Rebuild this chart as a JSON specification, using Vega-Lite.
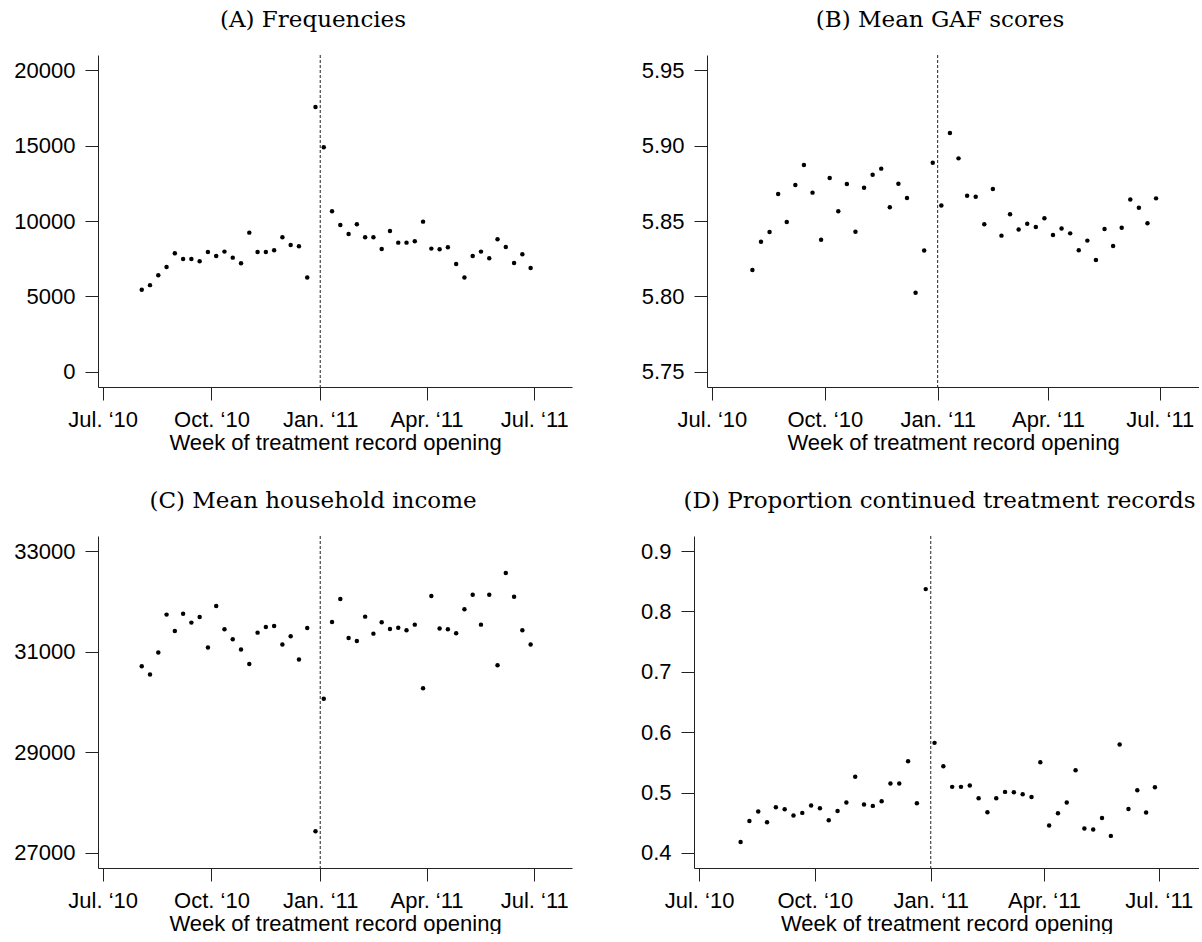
{
  "$schema": "https://vega.github.io/schema/vega-lite/v6.json",
  "padding": {"left": 13, "top": 8, "right": 0, "bottom": 0},
  "background": "white",
  "spacing": 36,
  "datasets": {
    "pts": [
      {"date": "2010-08-03", "freq": 5450, "gaf": 5.8175, "income": 30711, "prop": 0.418},
      {"date": "2010-08-10", "freq": 5750, "gaf": 5.8363, "income": 30546, "prop": 0.453},
      {"date": "2010-08-17", "freq": 6400, "gaf": 5.8427, "income": 30982, "prop": 0.4685},
      {"date": "2010-08-24", "freq": 6950, "gaf": 5.8679, "income": 31737, "prop": 0.4508},
      {"date": "2010-08-31", "freq": 7860, "gaf": 5.8493, "income": 31412, "prop": 0.4757},
      {"date": "2010-09-07", "freq": 7485, "gaf": 5.8738, "income": 31756, "prop": 0.4724},
      {"date": "2010-09-14", "freq": 7485, "gaf": 5.8871, "income": 31578, "prop": 0.4619},
      {"date": "2010-09-21", "freq": 7330, "gaf": 5.8688, "income": 31690, "prop": 0.4663},
      {"date": "2010-09-28", "freq": 7950, "gaf": 5.8376, "income": 31082, "prop": 0.4785},
      {"date": "2010-10-05", "freq": 7684, "gaf": 5.8785, "income": 31909, "prop": 0.474},
      {"date": "2010-10-12", "freq": 7971, "gaf": 5.8564, "income": 31445, "prop": 0.4541},
      {"date": "2010-10-19", "freq": 7573, "gaf": 5.8745, "income": 31247, "prop": 0.4696},
      {"date": "2010-10-26", "freq": 7198, "gaf": 5.8429, "income": 31042, "prop": 0.4834},
      {"date": "2010-11-02", "freq": 9229, "gaf": 5.8721, "income": 30757, "prop": 0.526},
      {"date": "2010-11-09", "freq": 7950, "gaf": 5.8807, "income": 31379, "prop": 0.4801},
      {"date": "2010-11-16", "freq": 7950, "gaf": 5.8847, "income": 31492, "prop": 0.4779},
      {"date": "2010-11-23", "freq": 8059, "gaf": 5.8591, "income": 31512, "prop": 0.4856},
      {"date": "2010-11-30", "freq": 8920, "gaf": 5.8747, "income": 31141, "prop": 0.5149},
      {"date": "2010-12-07", "freq": 8412, "gaf": 5.8652, "income": 31307, "prop": 0.5149},
      {"date": "2010-12-14", "freq": 8324, "gaf": 5.8025, "income": 30843, "prop": 0.5519},
      {"date": "2010-12-21", "freq": 6249, "gaf": 5.8304, "income": 31472, "prop": 0.4823},
      {"date": "2010-12-28", "freq": 17554, "gaf": 5.8886, "income": 27430, "prop": 0.837},
      {"date": "2011-01-04", "freq": 14882, "gaf": 5.8602, "income": 30063, "prop": 0.5823},
      {"date": "2011-01-11", "freq": 10642, "gaf": 5.9083, "income": 31591, "prop": 0.5436},
      {"date": "2011-01-18", "freq": 9737, "gaf": 5.8915, "income": 32047, "prop": 0.5094},
      {"date": "2011-01-25", "freq": 9141, "gaf": 5.8668, "income": 31273, "prop": 0.5094},
      {"date": "2011-02-01", "freq": 9781, "gaf": 5.8661, "income": 31214, "prop": 0.5116},
      {"date": "2011-02-08", "freq": 8920, "gaf": 5.8478, "income": 31697, "prop": 0.4906},
      {"date": "2011-02-15", "freq": 8920, "gaf": 5.8712, "income": 31359, "prop": 0.4674},
      {"date": "2011-02-22", "freq": 8148, "gaf": 5.8403, "income": 31584, "prop": 0.4906},
      {"date": "2011-03-01", "freq": 9340, "gaf": 5.8544, "income": 31452, "prop": 0.5011},
      {"date": "2011-03-08", "freq": 8567, "gaf": 5.8443, "income": 31478, "prop": 0.5006},
      {"date": "2011-03-15", "freq": 8567, "gaf": 5.8482, "income": 31426, "prop": 0.4972},
      {"date": "2011-03-22", "freq": 8655, "gaf": 5.846, "income": 31538, "prop": 0.4928},
      {"date": "2011-03-29", "freq": 9958, "gaf": 5.8518, "income": 30275, "prop": 0.5503},
      {"date": "2011-04-05", "freq": 8170, "gaf": 5.8407, "income": 32107, "prop": 0.4453},
      {"date": "2011-04-12", "freq": 8125, "gaf": 5.8451, "income": 31459, "prop": 0.4657},
      {"date": "2011-04-19", "freq": 8258, "gaf": 5.8418, "income": 31445, "prop": 0.4834},
      {"date": "2011-04-26", "freq": 7154, "gaf": 5.8306, "income": 31366, "prop": 0.537},
      {"date": "2011-05-03", "freq": 6249, "gaf": 5.837, "income": 31842, "prop": 0.4403},
      {"date": "2011-05-10", "freq": 7684, "gaf": 5.8242, "income": 32133, "prop": 0.4387},
      {"date": "2011-05-17", "freq": 7971, "gaf": 5.8447, "income": 31538, "prop": 0.458},
      {"date": "2011-05-24", "freq": 7529, "gaf": 5.8334, "income": 32133, "prop": 0.4282},
      {"date": "2011-05-31", "freq": 8788, "gaf": 5.8456, "income": 30731, "prop": 0.5796},
      {"date": "2011-06-07", "freq": 8280, "gaf": 5.8643, "income": 32563, "prop": 0.4729},
      {"date": "2011-06-14", "freq": 7220, "gaf": 5.8588, "income": 32094, "prop": 0.5039},
      {"date": "2011-06-21", "freq": 7794, "gaf": 5.8485, "income": 31426, "prop": 0.4669},
      {"date": "2011-06-28", "freq": 6889, "gaf": 5.865, "income": 31141, "prop": 0.5088}
    ],
    "cut": [{"d": "2011-01-01"}]
  },
  "vconcat": [
    {
      "bounds": "flush",
      "spacing": 135,
      "hconcat": [
        {
          "width": 474, "height": 332,
          "title": {"text": "(A) Frequencies", "dx": -22},
          "layer": [
            {
              "data": {"name": "pts"},
              "mark": {"type": "circle", "size": 20, "color": "black", "opacity": 1},
              "encoding": {
                "x": {"field": "date", "type": "temporal", "title": "Week of treatment record opening",
                  "scale": {"type": "utc", "domain": [{"year": 2010, "month": 6, "date": 27, "utc": true}, {"year": 2011, "month": 8, "date": 2, "utc": true}]},
                  "axis": {"values": [{"year": 2010, "month": 7, "date": 1, "utc": true}, {"year": 2010, "month": 10, "date": 1, "utc": true}, {"year": 2011, "month": 1, "date": 1, "utc": true}, {"year": 2011, "month": 4, "date": 1, "utc": true}, {"year": 2011, "month": 7, "date": 1, "utc": true}],
                    "labelExpr": "utcFormat(datum.value, '%b') + '. \u2018' + utcFormat(datum.value, '%y')"}},
                "y": {"field": "freq", "type": "quantitative", "title": null,
                  "scale": {"domain": [-1000, 21000], "nice": false, "zero": false},
                  "axis": {"values": [0, 5000, 10000, 15000, 20000], "format": "d"}}
              }
            },
            {
              "data": {"name": "cut"},
              "mark": {"type": "rule", "strokeDash": [3, 2], "color": "#222222", "strokeWidth": 1},
              "encoding": {"x": {"field": "d", "type": "temporal", "title": "Week of treatment record opening"}}
            }
          ]
        },
        {
          "width": 492, "height": 332,
          "title": {"text": "(B) Mean GAF scores", "dx": -13},
          "layer": [
            {
              "data": {"name": "pts"},
              "mark": {"type": "circle", "size": 20, "color": "black", "opacity": 1},
              "encoding": {
                "x": {"field": "date", "type": "temporal", "title": "Week of treatment record opening",
                  "scale": {"type": "utc", "domain": [{"year": 2010, "month": 6, "date": 27, "utc": true}, {"year": 2011, "month": 8, "date": 2, "utc": true}]},
                  "axis": {"values": [{"year": 2010, "month": 7, "date": 1, "utc": true}, {"year": 2010, "month": 10, "date": 1, "utc": true}, {"year": 2011, "month": 1, "date": 1, "utc": true}, {"year": 2011, "month": 4, "date": 1, "utc": true}, {"year": 2011, "month": 7, "date": 1, "utc": true}],
                    "labelExpr": "utcFormat(datum.value, '%b') + '. \u2018' + utcFormat(datum.value, '%y')"}},
                "y": {"field": "gaf", "type": "quantitative", "title": null,
                  "scale": {"domain": [5.74, 5.96], "nice": false, "zero": false},
                  "axis": {"values": [5.75, 5.8, 5.85, 5.9, 5.95], "format": ".2f"}}
              }
            },
            {
              "data": {"name": "cut"},
              "mark": {"type": "rule", "strokeDash": [3, 2], "color": "#222222", "strokeWidth": 1},
              "encoding": {"x": {"field": "d", "type": "temporal", "title": "Week of treatment record opening"}}
            }
          ]
        }
      ]
    },
    {
      "bounds": "flush",
      "spacing": 122,
      "hconcat": [
        {
          "width": 474, "height": 332,
          "title": {"text": "(C) Mean household income", "dx": -22},
          "layer": [
            {
              "data": {"name": "pts"},
              "mark": {"type": "circle", "size": 20, "color": "black", "opacity": 1},
              "encoding": {
                "x": {"field": "date", "type": "temporal", "title": "Week of treatment record opening",
                  "scale": {"type": "utc", "domain": [{"year": 2010, "month": 6, "date": 27, "utc": true}, {"year": 2011, "month": 8, "date": 2, "utc": true}]},
                  "axis": {"values": [{"year": 2010, "month": 7, "date": 1, "utc": true}, {"year": 2010, "month": 10, "date": 1, "utc": true}, {"year": 2011, "month": 1, "date": 1, "utc": true}, {"year": 2011, "month": 4, "date": 1, "utc": true}, {"year": 2011, "month": 7, "date": 1, "utc": true}],
                    "labelExpr": "utcFormat(datum.value, '%b') + '. \u2018' + utcFormat(datum.value, '%y')"}},
                "y": {"field": "income", "type": "quantitative", "title": null,
                  "scale": {"domain": [26700, 33300], "nice": false, "zero": false},
                  "axis": {"values": [27000, 29000, 31000, 33000], "format": "d"}}
              }
            },
            {
              "data": {"name": "cut"},
              "mark": {"type": "rule", "strokeDash": [3, 2], "color": "#222222", "strokeWidth": 1},
              "encoding": {"x": {"field": "d", "type": "temporal", "title": "Week of treatment record opening"}}
            }
          ]
        },
        {
          "width": 505, "height": 332,
          "title": {"text": "(D) Proportion continued treatment records", "dx": -7},
          "layer": [
            {
              "data": {"name": "pts"},
              "mark": {"type": "circle", "size": 20, "color": "black", "opacity": 1},
              "encoding": {
                "x": {"field": "date", "type": "temporal", "title": "Week of treatment record opening",
                  "scale": {"type": "utc", "domain": [{"year": 2010, "month": 6, "date": 27, "utc": true}, {"year": 2011, "month": 8, "date": 2, "utc": true}]},
                  "axis": {"values": [{"year": 2010, "month": 7, "date": 1, "utc": true}, {"year": 2010, "month": 10, "date": 1, "utc": true}, {"year": 2011, "month": 1, "date": 1, "utc": true}, {"year": 2011, "month": 4, "date": 1, "utc": true}, {"year": 2011, "month": 7, "date": 1, "utc": true}],
                    "labelExpr": "utcFormat(datum.value, '%b') + '. \u2018' + utcFormat(datum.value, '%y')"}},
                "y": {"field": "prop", "type": "quantitative", "title": null,
                  "scale": {"domain": [0.375, 0.925], "nice": false, "zero": false},
                  "axis": {"values": [0.4, 0.5, 0.6, 0.7, 0.8, 0.9], "format": ".1f"}}
              }
            },
            {
              "data": {"name": "cut"},
              "mark": {"type": "rule", "strokeDash": [3, 2], "color": "#222222", "strokeWidth": 1},
              "encoding": {"x": {"field": "d", "type": "temporal", "title": "Week of treatment record opening"}}
            }
          ]
        }
      ]
    }
  ],
  "config": {
    "view": {"stroke": null},
    "axis": {
      "grid": false,
      "domainColor": "#222222",
      "tickColor": "#222222",
      "domainWidth": 1,
      "tickWidth": 1,
      "tickSize": 13,
      "labelFont": "Liberation Sans",
      "labelFontSize": 22,
      "labelColor": "black",
      "titleFont": "Liberation Sans",
      "titleFontSize": 22,
      "titleFontWeight": "normal",
      "titleColor": "black",
      "labelFlush": false,
      "labelOverlap": false
    },
    "axisX": {"labelPadding": 9, "titlePadding": 2},
    "axisY": {"labelPadding": 10},
    "title": {
      "font": "DejaVu Serif",
      "fontSize": 23,
      "fontWeight": "normal",
      "color": "black",
      "baseline": "alphabetic",
      "offset": 23,
      "anchor": "middle",
      "frame": "group"
    }
  }
}
